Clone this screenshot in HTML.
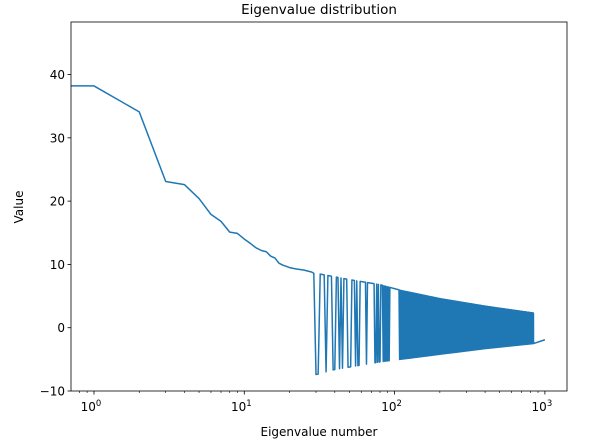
<!DOCTYPE html>
<html><head><meta charset="utf-8"><style>
body{margin:0;background:#fff;}
svg{display:block;font-family:"DejaVu Sans","Liberation Sans",sans-serif;}
</style></head><body>
<svg id="chart" width="599" height="444" viewBox="0 0 599 444">
<rect width="599" height="444" fill="#fff"/>
<text x="319" y="14" font-size="13.5" text-anchor="middle">Eigenvalue distribution</text>
<text x="319" y="436" font-size="12" text-anchor="middle">Eigenvalue number</text>
<text transform="translate(23,207) rotate(-90)" font-size="12" text-anchor="middle">Value</text>
<g id="ticks"></g>
<path id="line" fill="none" stroke="#1f77b4" stroke-width="1.5" stroke-linejoin="round"/>
<rect x="71" y="22" width="496" height="369" fill="none" stroke="#000" stroke-width="0.8"/>
</svg>
<script>
// leading eigenvalues
const headN = [0.7,1,2,3,4,5,6,7,8,9,10,11,12,13,14,15,16,17,18,19,20,22,25,28,29];
const headV = [38.2,38.2,34.1,23.1,22.6,20.4,17.9,16.8,15.1,14.9,14.0,13.3,12.6,12.2,12.0,11.3,11.0,10.2,9.9,9.7,9.5,9.3,9.1,8.8,8.6];
// envelope anchors for the oscillating region
const upperN = [30,50,80,110,200,400,840];
const upperV = [8.6,7.6,6.8,5.9,4.6,3.4,2.3];
const lowerN = [30,40,60,80,110,200,400,840];
const lowerV = [-7.4,-6.6,-5.9,-5.4,-5.0,-4.2,-3.3,-2.5];
// isolated negative eigenvalue positions before dense region
const dipN = [30,31,35,39,40,43,45,49,50,51,55,57,58,65,74,75,77,79,80,84,86,88,90,92];
const denseStart = 108, denseEnd = 840;
// tail
const tailN = [841,1000];
const tailV = [-2.5,-1.9];
const yTicks = [-10,0,10,20,30,40];
const xTicks = [1,10,100,1000];
const xTickLabels = ['0','1','2','3'];

const X0=71,X1=567,Y0=22,Y1=391, LMIN=-0.153, LMAX=3.147, VMIN=-10, VMAX=48.3;
const xs = n => X0 + (Math.log10(n)-LMIN)/(LMAX-LMIN)*(X1-X0);
const ys = v => Y1 - (v-VMIN)/(VMAX-VMIN)*(Y1-Y0);
function env(N,V,n){
  if(n<=N[0])return V[0];
  for(let i=1;i<N.length;i++){ if(n<=N[i]){const t=(Math.log(n)-Math.log(N[i-1]))/(Math.log(N[i])-Math.log(N[i-1]));return V[i-1]+t*(V[i]-V[i-1]);}}
  return V[V.length-1];
}
const pts=[];
headN.forEach((n,i)=>pts.push([n,headV[i]]));
const dipSet=new Set(dipN);
for(let n=30;n<=denseEnd;n++){
  const neg = dipSet.has(n) || (n>=denseStart && n%2===0);
  pts.push([n, neg?env(lowerN,lowerV,n):env(upperN,upperV,n)]);
}
tailN.forEach((n,i)=>pts.push([n,tailV[i]]));
document.getElementById('line').setAttribute('d', pts.map((p,i)=>(i?'L':'M')+Math.max(X0,xs(p[0])).toFixed(2)+' '+ys(p[1]).toFixed(2)).join(''));

const g=document.getElementById('ticks'), NS='http://www.w3.org/2000/svg';
function mk(tag,attrs,name){const e=document.createElementNS(NS,tag);for(const k in attrs)e.setAttribute(k,attrs[k]);
  
  
  g.appendChild(e);return e;}
yTicks.forEach(v=>{const y=ys(v);
  mk('line',{x1:X0-3.5,x2:X0,y1:y,y2:y,stroke:'#000','stroke-width':0.8},'y-tick');
  const t=mk('text',{x:X0-6,y:y+4.5,'font-size':12,'text-anchor':'end'},'y-tick-label');
  t.textContent=v<0?'\u2212'+Math.abs(v):String(v);});
xTicks.forEach((n,i)=>{const x=xs(n);
  mk('line',{x1:x,x2:x,y1:Y1,y2:Y1+3.5,stroke:'#000','stroke-width':0.8},'x-tick');
  const t=mk('text',{x:x-3,y:Y1+20,'font-size':12,'text-anchor':'middle'},'x-tick-label');
  t.textContent='10';
  const s=document.createElementNS(NS,'tspan');s.setAttribute('dy','-5');s.setAttribute('font-size','8.5');s.textContent=xTickLabels[i];t.appendChild(s);});
for(let d=-1;d<=3;d++)for(let m=2;m<=9;m++){const n=m*Math.pow(10,d);const x=xs(n);
  if(x<X0||x>X1)continue;
  mk('line',{x1:x,x2:x,y1:Y1,y2:Y1+2,stroke:'#000','stroke-width':0.6},'x-minor-tick');}
</script>
</body></html>
